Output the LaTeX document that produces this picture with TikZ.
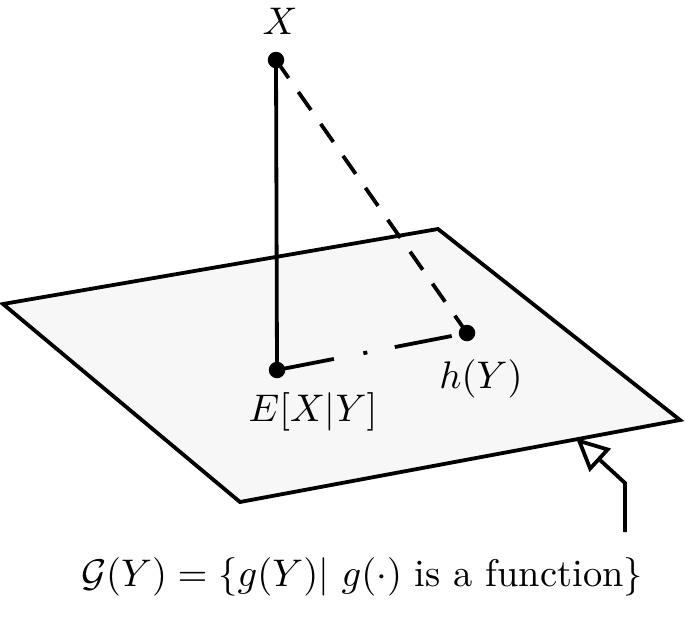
\documentclass[tikz,border=0pt]{standalone}
\usetikzlibrary{arrows.meta}
\begin{document}
\begin{tikzpicture}[x=1pt,y=-1pt,
  lw/.style={line width=3.8pt},
  dotpt/.style={circle,fill=black,inner sep=0pt,minimum size=16.5pt},
  lab/.style={scale=3.85,inner sep=0pt},
]
\useasboundingbox (0,0) rectangle (685,627);
% plane
\coordinate (pl) at (3,304);
\coordinate (pt) at (438,229);
\coordinate (pr) at (680,420);
\coordinate (pb) at (240,502);
\draw[lw,fill=black!3,line join=miter] (pl) -- (pt) -- (pr) -- (pb) -- cycle;
% points
\node[dotpt] (X) at (276,60) {};
\node[dotpt] (E) at (277,370) {};
\node[dotpt] (H) at (467,333) {};
% lines
\draw[lw] (X.center) -- (E.center);
\draw[lw,dash pattern=on 22pt off 17pt] (X.center) -- (H.center);
\draw[lw,dash pattern=on 58pt off 30pt on 4pt off 28pt] (E.center) -- (H.center);
% labels
\node[lab] (lx) at (280,21) {$X$};
\node[lab] (le) at (313,412) {$E[X|Y]$};
\node[lab] (lh) at (481,379) {$h(Y)$};
\node[lab] (lg) at (362,577) {$\mathcal{G}(Y)=\{g(Y)|\ g(\cdot)\mbox{ is a function}\}$};
% arrow
\coordinate (a0) at (625,532);
\coordinate (a1) at (625,483);
\coordinate (a2) at (576,438);
\draw[lw,-{Triangle[open,length=33pt,width=31pt]}] (a0) -- (a1) -- (a2);
\end{tikzpicture}
\end{document}
